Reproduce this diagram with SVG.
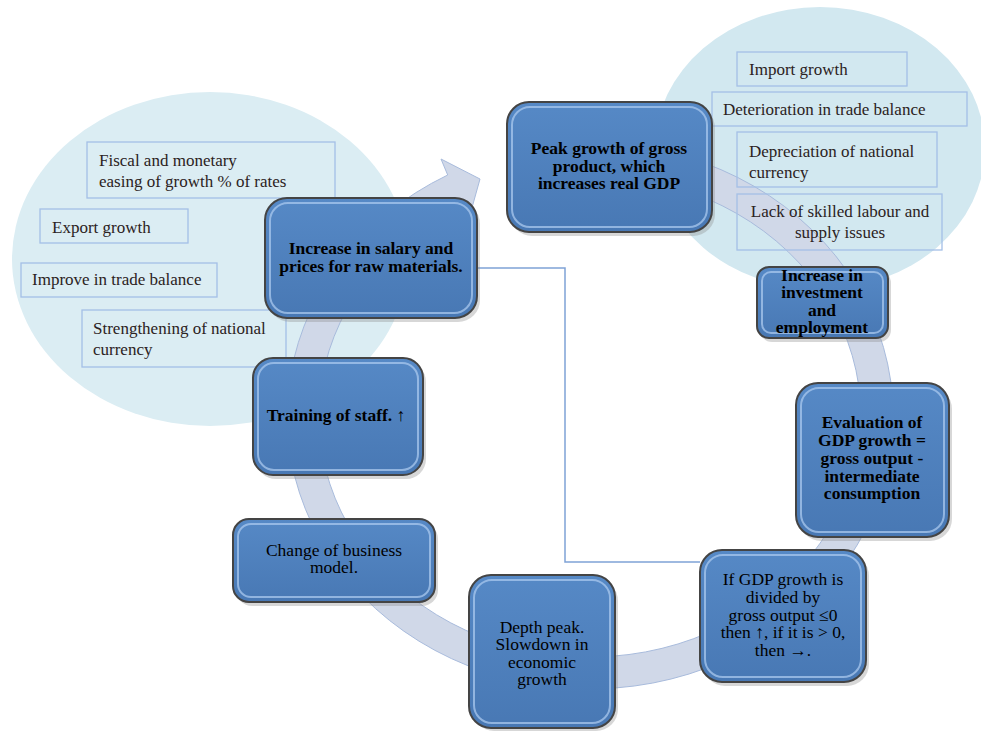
<svg xmlns="http://www.w3.org/2000/svg" width="981" height="731" viewBox="0 0 981 731">
<defs>
<linearGradient id="ng" x1="0" y1="0" x2="0" y2="1">
<stop offset="0" stop-color="#5689c6"/>
<stop offset="1" stop-color="#4878b4"/>
</linearGradient>
<style>
.node{fill:url(#ng);stroke:#444;stroke-width:2}
.bev{fill:none;stroke:#a9c8ee;stroke-width:2;opacity:0.75}
.shd{fill:#8c8c8c;opacity:0.35}
.nb{font-family:"Liberation Serif","Times New Roman",serif;font-size:17.5px;font-weight:bold;fill:#000;text-anchor:middle}
.nr{font-family:"Liberation Serif","Times New Roman",serif;font-size:17.5px;fill:#000;text-anchor:middle}
.tb{fill:none;stroke:#a4bfe6;stroke-width:1.3}
.tt{font-family:"Liberation Serif","Times New Roman",serif;font-size:17px;fill:#2b2222}
.conn{fill:none;stroke:#7fa2d6;stroke-width:1.5}
</style>
</defs>
<rect width="981" height="731" fill="#fff"/>
<g id="backgrounds">
<ellipse cx="210" cy="259" rx="198" ry="167" fill="#dbedf3"/>
<ellipse cx="820" cy="148" rx="165" ry="141" fill="#d2e8f0"/>
</g>
<g id="cycle-arrow">
<path d="M447.7,175 L441,159 L480,179 L468,222 L462.8,203.2 A271 241 0 1 0 542.9,178.7 L537.4,147.1 A303 273 0 1 1 447.7,175 Z" fill="#d0d8e8" stroke="#a8bbdc" stroke-width="1"/>
</g>
<g id="connectors">
<polyline class="conn" points="477,268 565,268 565,562 700,562"/>
</g>
<g id="textboxes">
<g id="tb-fiscal"><rect class="tb" x="87" y="142" width="248" height="56"/>
<text class="tt" x="99" y="166">Fiscal and monetary</text><text class="tt" x="99" y="187">easing of growth % of rates</text></g>
<g id="tb-export"><rect class="tb" x="40" y="209" width="148" height="34"/>
<text class="tt" x="52" y="233">Export growth</text></g>
<g id="tb-improve"><rect class="tb" x="21" y="263" width="196" height="34"/>
<text class="tt" x="32" y="285">Improve in trade balance</text></g>
<g id="tb-strength"><rect class="tb" x="82" y="310" width="204" height="57"/>
<text class="tt" x="93" y="334">Strengthening of national</text><text class="tt" x="93" y="355">currency</text></g>
<g id="tb-import"><rect class="tb" x="737" y="52" width="170" height="34"/>
<text class="tt" x="749" y="75">Import growth</text></g>
<g id="tb-deterioration"><rect class="tb" x="712" y="92" width="255" height="34"/>
<text class="tt" x="723" y="115">Deterioration in trade balance</text></g>
<g id="tb-depreciation"><rect class="tb" x="737" y="132" width="200" height="55"/>
<text class="tt" x="749" y="157">Depreciation of national</text><text class="tt" x="749" y="178">currency</text></g>
<g id="tb-lack"><rect class="tb" x="737" y="194" width="205" height="56"/>
<text class="tt" x="840" y="217" text-anchor="middle">Lack of skilled labour and</text><text class="tt" x="840" y="238" text-anchor="middle">supply issues</text></g>
</g>
<g id="n-peak">
<rect class="shd" x="510" y="106" width="205" height="130" rx="22"/>
<rect class="node" x="507" y="102" width="205" height="130" rx="22"/>
<rect class="bev" x="512" y="107" width="195" height="120" rx="18"/>
<text class="nb" x="609" y="154">Peak growth of gross</text>
<text class="nb" x="609" y="172">product, which</text>
<text class="nb" x="609" y="189">increases real GDP</text>
</g>
<g id="n-invest">
<rect class="shd" x="760" y="271" width="131" height="71" rx="12"/>
<rect class="node" x="757" y="267" width="131" height="71" rx="12"/>
<rect class="bev" x="762" y="272" width="121" height="61" rx="9"/>
<text class="nb" x="822" y="281">Increase in</text>
<text class="nb" x="822" y="298">investment</text>
<text class="nb" x="822" y="316">and</text>
<text class="nb" x="822" y="333">employment</text>
</g>
<g id="n-eval">
<rect class="shd" x="799" y="387" width="153" height="154" rx="22"/>
<rect class="node" x="796" y="383" width="153" height="154" rx="22"/>
<rect class="bev" x="801" y="388" width="143" height="144" rx="18"/>
<text class="nb" x="872" y="428">Evaluation of</text>
<text class="nb" x="872" y="446">GDP growth =</text>
<text class="nb" x="872" y="464">gross output -</text>
<text class="nb" x="872" y="482">intermediate</text>
<text class="nb" x="872" y="499">consumption</text>
</g>
<g id="n-ifgdp">
<rect class="shd" x="703" y="554" width="166" height="132" rx="22"/>
<rect class="node" x="700" y="550" width="166" height="132" rx="22"/>
<rect class="bev" x="705" y="555" width="156" height="122" rx="18"/>
<text class="nr" x="783" y="585">If GDP growth is</text>
<text class="nr" x="783" y="603">divided by</text>
<text class="nr" x="783" y="621">gross output ≤0</text>
<text class="nr" x="783" y="638">then ↑, if it is &gt; 0,</text>
<text class="nr" x="783" y="656">then →.</text>
</g>
<g id="n-depth">
<rect class="shd" x="472" y="579" width="146" height="152" rx="22"/>
<rect class="node" x="469" y="575" width="146" height="153" rx="22"/>
<rect class="bev" x="474" y="580" width="136" height="143" rx="18"/>
<text class="nr" x="542" y="633">Depth peak.</text>
<text class="nr" x="542" y="650">Slowdown in</text>
<text class="nr" x="542" y="668">economic</text>
<text class="nr" x="542" y="685">growth</text>
</g>
<g id="n-change">
<rect class="shd" x="236" y="523" width="202" height="83" rx="16"/>
<rect class="node" x="233" y="519" width="202" height="83" rx="16"/>
<rect class="bev" x="238" y="524" width="192" height="73" rx="13"/>
<text class="nr" x="334" y="556">Change of business</text>
<text class="nr" x="334" y="573">model.</text>
</g>
<g id="n-training">
<rect class="shd" x="256" y="362" width="170" height="117" rx="20"/>
<rect class="node" x="253" y="358" width="170" height="117" rx="20"/>
<rect class="bev" x="258" y="363" width="160" height="107" rx="16"/>
<text class="nb" x="336" y="421">Training of staff. ↑</text>
</g>
<g id="n-salary">
<rect class="shd" x="268" y="202" width="212" height="120" rx="22"/>
<rect class="node" x="265" y="198" width="212" height="120" rx="22"/>
<rect class="bev" x="270" y="203" width="202" height="110" rx="18"/>
<text class="nb" x="371" y="254">Increase in salary and</text>
<text class="nb" x="371" y="272">prices for raw materials.</text>
</g>
</svg>
